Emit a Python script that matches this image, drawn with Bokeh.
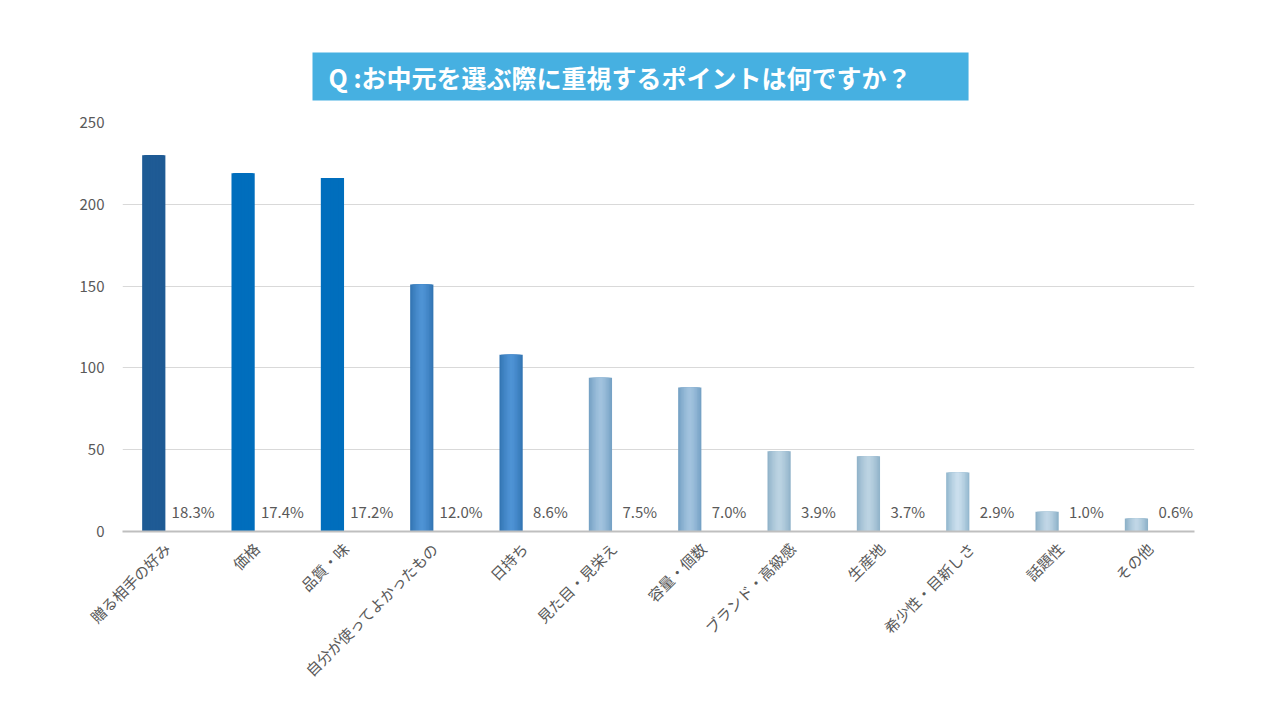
from math import pi
from bokeh.plotting import figure
from bokeh.models import (ColumnDataSource, FactorRange, Range1d, SingleIntervalTicker)
from bokeh.transform import dodge
from bokeh.core.properties import value
from bokeh.embed import file_html
from bokeh.resources import INLINE

# ---------------- data ----------------
title_text = "Q :お中元を選ぶ際に重視するポイントは何ですか？"
categories = ["贈る相手の好み", "価格", "品質・味", "自分が使ってよかったもの", "日持ち",
              "見た目・見栄え", "容量・個数", "ブランド・高級感", "生産地", "希少性・目新しさ",
              "話題性", "その他"]
counts = [230, 219, 216, 151, 108, 94, 88, 49, 46, 36, 12, 8]
percents = [18.3, 17.4, 17.2, 12.0, 8.6, 7.5, 7.0, 3.9, 3.7, 2.9, 1.0, 0.6]
y_tick_step = 50
y_max = 250

# ---------------- styles ----------------
center_cols = ["#1F5B95", "#006EBD", "#006EBD", "#4F94D6", "#4F94D6",
               "#A3C4DF", "#A3C4DF", "#BDD4E3", "#BDD4E3", "#CCE0EE", "#C2D8E7", "#C2D8E7"]
edge_cols = ["#1F5B95", "#006EBD", "#006EBD", "#3476B4", "#3476B4",
             "#76A2C5", "#76A2C5", "#92B4CA", "#92B4CA", "#95B9CF", "#8EB2C9", "#8EB2C9"]

FONT = "Noto Sans CJK JP"
GREY = "#595959"


def hex2rgb(h):
    h = h.lstrip("#")
    return tuple(int(h[i:i + 2], 16) for i in (0, 2, 4))


def mix(a, b, t):
    ra, rb = hex2rgb(a), hex2rgb(b)
    return "#%02X%02X%02X" % tuple(round(ra[i] + (rb[i] - ra[i]) * t) for i in range(3))


p = figure(width=1264, height=704, output_backend="svg", toolbar_location=None,
           x_range=FactorRange(factors=categories, range_padding=0),
           y_range=Range1d(0, y_max),
           min_border_left=122, min_border_right=70, min_border_top=122, min_border_bottom=173)
p.outline_line_color = None
p.background_fill_color = "white"
p.border_fill_color = "white"

src = ColumnDataSource(dict(cat=categories, count=counts,
                            lab=[f"{v:.1f}%" for v in percents]))

BAR_OFF = -0.15
BAR_W = 0.26
N = 8
# nested bars: widest (edge colour) first, narrower and lighter towards the centre
for k in range(N):
    frac = 1 - k / N
    t = frac ** 1.5
    cols = [mix(c, e, t) for c, e in zip(center_cols, edge_cols)]
    src.data[f"c{k}"] = cols
    p.vbar(x=dodge("cat", BAR_OFF, range=p.x_range), top="count", bottom=0,
           width=BAR_W * frac, source=src, fill_color=f"c{k}", line_color=None)

p.text(x=dodge("cat", 0.29, range=p.x_range), y=12, text="lab", source=src,
       text_font=value(FONT), text_font_size="15px", text_color=GREY,
       text_align="center", text_baseline="middle")

# axes
p.yaxis.ticker = SingleIntervalTicker(interval=y_tick_step)
p.yaxis.axis_line_color = None
p.yaxis.major_tick_line_color = None
p.yaxis.minor_tick_line_color = None
p.yaxis.major_label_text_font = FONT
p.yaxis.major_label_text_font_size = "15px"
p.yaxis.major_label_text_color = GREY
p.yaxis.major_label_standoff = 12

p.xaxis.axis_line_color = "#BFBFBF"
p.xaxis.axis_line_width = 2
p.xaxis.major_tick_line_color = None
p.xaxis.minor_tick_line_color = None
p.xaxis.major_label_orientation = pi / 4
p.xaxis.major_label_text_font = FONT
p.xaxis.major_label_text_font_size = "15px"
p.xaxis.major_label_text_color = GREY
p.xaxis.major_label_standoff = 8

p.xgrid.grid_line_color = None
p.ygrid.grid_line_color = "#D9D9D9"
p.ygrid.grid_line_width = 1

# title box
p.title.text = title_text
p.title.align = "left"
p.title.offset = 190
p.title.standoff = 44
p.title.text_font = FONT
p.title.text_font_size = "25px"
p.title.text_font_style = "bold"
p.title.text_color = "white"
p.title.background_fill_color = "#46B0E1"
p.title.padding = dict(left=16, right=57, top=6, bottom=6)

open("out.html", "w").write(file_html(p, INLINE))
